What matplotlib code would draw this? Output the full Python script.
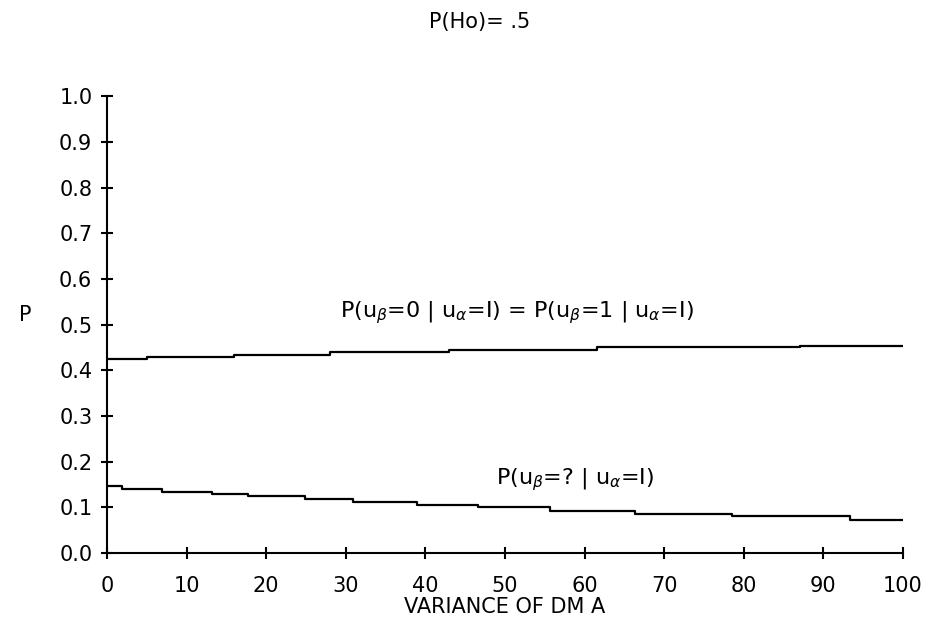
import matplotlib
matplotlib.use("Agg")
import matplotlib.pyplot as plt
import numpy as np

# step edges (variance of DM A) and levels
upper_x = [0, 5, 16, 28, 43, 61.5, 87, 100]
upper_p = [0.424, 0.428, 0.434, 0.441, 0.445, 0.450, 0.454, 0.454]

lower_x = [0, 1.9, 6.9, 13.2, 17.7, 24.9, 30.9, 38.9, 46.6, 55.7, 66.3, 78.5, 93.3, 100]
lower_p = [0.147, 0.141, 0.134, 0.129, 0.124, 0.118, 0.112, 0.106, 0.101, 0.093,
           0.086, 0.080, 0.073, 0.073]

x_ticks = np.arange(0, 101, 10)
y_ticks = np.arange(0, 1.01, 0.1)

plt.rcParams['font.family'] = ['DejaVu Sans']
plt.rcParams['mathtext.fontset'] = 'dejavusans'

fig = plt.figure(figsize=(9.3, 6.31), dpi=100, facecolor='white')
ax = fig.add_axes([0.115, 0.1236, 0.856, 0.724])

ax.step(upper_x, upper_p, where='post', color='black', linewidth=1.6)
ax.step(lower_x, lower_p, where='post', color='black', linewidth=1.6)

ax.set_xlim(0, 100)
ax.set_ylim(0, 1.0)
ax.spines['top'].set_visible(False)
ax.spines['right'].set_visible(False)
for s in ['left', 'bottom']:
    ax.spines[s].set_linewidth(1.5)

ax.set_xticks(x_ticks)
ax.set_xticklabels([str(v) for v in x_ticks])
ax.set_yticks(y_ticks)
ax.set_yticklabels(['%.1f' % v for v in y_ticks])
ax.tick_params(axis='both', direction='inout', length=9, width=1.5,
               labelsize=15, colors='black')
ax.tick_params(axis='x', pad=12)
ax.tick_params(axis='y', pad=6)

ax.set_xlabel('VARIANCE OF DM A', fontsize=15, labelpad=1)
ax.set_ylabel('P', fontsize=15, rotation=0)
ax.yaxis.set_label_coords(-0.103, 0.5)

fig.text(0.516, 0.965, 'P(Ho)= .5', fontsize=15, ha='center', va='center')

ax.text(51.5, 0.527,
        r'P(u$_\beta$=0 | u$_\alpha$=I) = P(u$_\beta$=1 | u$_\alpha$=I)',
        fontsize=16, ha='center', va='center')
ax.text(58.8, 0.16, r'P(u$_\beta$=? | u$_\alpha$=I)',
        fontsize=16, ha='center', va='center')

fig.savefig('out.png', dpi=100, facecolor='white')
